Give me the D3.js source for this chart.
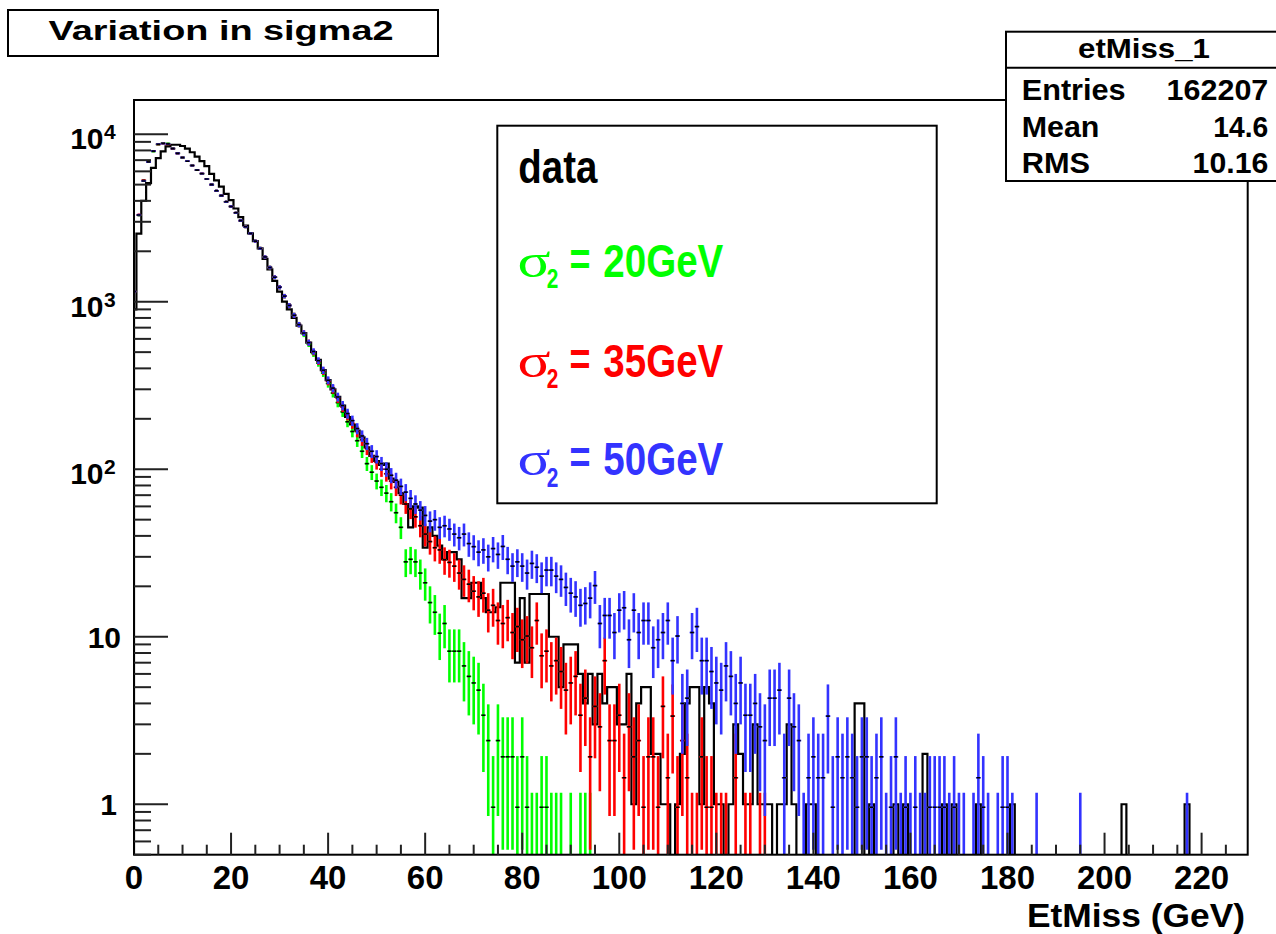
<!DOCTYPE html>
<html><head><meta charset="utf-8">
<script src="https://cdn.jsdelivr.net/npm/d3@7"></script>
<style>
body{margin:0;background:#fff}
svg{display:block}
text{font-family:"Liberation Sans",Arial,Helvetica,sans-serif;font-weight:bold}
</style>
</head><body>
<svg id="c" width="1276" height="934"></svg>
<script>
// ---- data: 1 GeV bins centred on integers 0..229 ----
const binCenters = d3.range(0, 230);
const dataCounts = [
 900,2550,4000,5100,6300,7200,7900,8450,8650,8650,
 8500,8200,7800,7350,6900,6450,5800,5300,4860,4400,
 4040,3600,3200,2850,2560,2300,2080,1800,1560,1330,
 1150,1000,900,800,720,650,570,500,450,390,
 340,300,270,240,205,185,170,155,135,120,
 112,106,108,88,84,72,62,45,60,59,
 34,45,40,35,29,32,32,29,17,17,
 21,21,17,14,14,15,21,21,21,7,
 17,7,18,18,18,18,10,10,5,9,
 9,9,6,4,6,3,6,4,5,5,
 3,3,6,1,4,5,5,2,2,1,
 1,0,1,2,4,5,5,1,5,4,
 1,1,0,1,3,2,1,1,3,1,
 1,1,0,1,1,3,1,0,0,1,
 1,0,0,0,0,0,0,0,0,4,
 4,0,1,0,0,0,0,1,0,1,
 0,0,0,2,0,0,0,1,0,1,
 0,0,0,0,1,0,0,0,0,0,
 0,1,0,0,0,0,0,0,0,0,
 0,0,0,0,0,0,0,0,0,0,
 0,0,0,0,1,0,0,0,0,0,
 0,0,0,0,0,0,0,1,0,0,
 0,0,0,0,0,0,0,0,0,0];
const sigma20 = [
 1150,3280,5250,6850,7900,8700,8850,8800,8200,7700,
 7250,6900,6500,6100,5800,5400,5000,4600,4300,3950,
 3700,3400,3050,2800,2560,2300,2080,1850,1600,1400,
 1220,1080,950,830,730,640,560,490,430,375,
 325,285,250,220,192,168,148,128,108,96,
 85,78,72,64,55,45,28,29,28,24,
 21,16,14,10.5,12,8.2,8.2,8.2,6.7,5.8,
 5.3,4.8,3.4,2.4,0.96,2.4,1.92,1.92,1.92,0.96,
 1.92,0.96,0.48,0.48,0.96,0.96,0.48,0.48,0.48,0,
 0.48,0,0.48,0.48,0.48,0,0,0,0,0,
 0,0,0,0,0,0,0,0,0,0,
 0,0,0,0,0,0,0,0,0,0,
 0,0,0,0,0,0,0,0,0,0,
 0,0,0,0,0,0,0,0,0,0,
 0,0,0,0,0,0,0,0,0,0,
 0,0,0,0,0,0,0,0,0,0,
 0,0,0,0,0,0,0,0,0,0,
 0,0,0,0,0,0,0,0,0,0,
 0,0,0,0,0,0,0,0,0,0,
 0,0,0,0,0,0,0,0,0,0,
 0,0,0,0,0,0,0,0,0,0,
 0,0,0,0,0,0,0,0,0,0,
 0,0,0,0,0,0,0,0,0,0];
const sigma35 = [
 1150,3300,5300,6850,7950,8700,8800,8700,8200,7680,
 7260,6900,6500,6100,5820,5400,5000,4600,4300,3950,
 3700,3400,3050,2800,2560,2300,2080,1850,1600,1400,
 1220,1080,950,830,730,650,570,500,440,385,
 335,300,265,235,210,188,168,150,133,120,
 110,100,94,85,78,70,62,58,52,46,
 41,37,34,33,28.8,27.8,26.4,24,22,20.6,
 18.7,17.3,18.2,14.4,15.4,12.5,12,13,10.6,11.5,
 9.6,10.1,8.6,12.5,7.7,8.2,6.7,7.2,6.2,4.8,
 5.3,5.8,3.4,4.3,1.92,3.84,2.9,7.2,2.4,2.4,
 3.4,1.44,2.9,1.92,2.4,0.96,1.92,1.92,0.96,3.84,
 1.44,3.36,0.96,2.4,1.44,0.48,0.48,1.92,0.96,0.96,
 0.48,0.48,0.48,0,1.44,0,0.48,0.48,0,0.48,
 0.48,0,0,0,0,0,0,0,0,0,
 0,0,0,0,0,0,0,0,0,0,
 0,0,0,0,0,0,0,0,0,0,
 0,0,0,0,0,0,0,0,0,0,
 0,0,0,0,0,0,0,0,0,0,
 0,0,0,0,0,0,0,0,0,0,
 0,0,0,0,0,0,0,0,0,0,
 0,0,0,0,0,0,0,0,0,0,
 0,0,0,0,0,0,0,0,0,0,
 0,0,0,0,0,0,0,0,0,0];
const sigma50 = [
 1150,3290,5260,6840,7920,8710,8800,8750,8220,7680,
 7260,6900,6500,6100,5820,5400,5000,4600,4300,3950,
 3700,3400,3050,2800,2560,2300,2080,1850,1600,1400,
 1220,1080,950,830,730,650,570,505,445,390,
 340,305,270,240,215,195,175,158,142,128,
 119,108,100,92,86,79,73,67,62,57,
 53,49,50,45,46,44,41,39,41,36,
 34.5,32,33,30,33.6,31,34.6,29,26.4,28,
 26.4,24,27.4,26,23,25,25,23,22,19.7,
 18.2,17.3,15.4,15.8,17,20.2,12,13.4,13.4,10.6,
 14.4,14.9,9.6,14.4,10.6,12.5,12.5,8.6,9.6,10.6,
 12.5,7.2,10.1,4,4.3,10.6,11.5,7.2,7.2,6.2,
 5.3,4.8,6.7,5.8,4,5.3,3.4,3.4,4,2.9,
 2.4,4.3,4.3,4.8,1.44,4.3,2.9,2.4,0.48,1.44,
 1.92,1.44,1.44,3.36,0.96,1.92,1.44,1.92,1.44,0.96,
 1.92,1.92,0.96,1.44,1.92,0.48,0.96,1.92,0.48,0.96,
 0.48,0.96,0.48,0.48,0.96,0.96,0.96,0.96,0.48,0.96,
 0.48,0.48,0,0.48,1.44,0.96,0.48,0,0.48,0.96,
 0.96,0.48,0,0,0,0,0.48,0,0,0,
 0,0,0,0,0,0.48,0,0,0,0,
 0,0,0,0,0,0,0,0,0,0,
 0,0,0,0,0,0,0,0.48,0,0,
 0,0,0,0,0,0,0,0,0,0];

const xTickValues = [0,20,40,60,80,100,120,140,160,180,200,220];
const yTickExponents = [0,1,2,3,4];
const legendNames = ["data","20GeV","35GeV","50GeV"];
const seriesColors = ["#000000","#00ff00","#ff0000","#3333ff"];
const statsLabels = ["Entries","Mean","RMS"];
const statsValues = ["162207","14.6","10.16"];

// ---- layout ----
const svg = d3.select("#c");
const F = {l:134, r:1247.7, t:100, b:854.7};
const x = d3.scaleLinear().domain([0,229.5]).range([F.l,F.r]);
const y = d3.scaleLog().domain([0.5,16000]).range([F.b,F.t]);

svg.append("defs").append("clipPath").attr("id","fr")
  .append("rect").attr("x",F.l).attr("y",F.t).attr("width",F.r-F.l).attr("height",F.b-F.t);

const plot = svg.append("g").attr("clip-path","url(#fr)");
const yv = v => v>0 ? y(Math.max(v,0.3)) : F.b+5;

// data histogram (step outline)
const p = d3.path();
p.moveTo(x(0), F.b+5);
binCenters.forEach((c,i)=>{
  const x0 = x(Math.max(c-0.5,0)), x1 = x(c+0.5), yy = yv(dataCounts[i]);
  p.lineTo(x0, yy); p.lineTo(x1, yy);
});
p.lineTo(x(229.5), F.b+5);
plot.append("path").attr("d",p.toString()).attr("fill","none")
  .attr("stroke","#000").attr("stroke-width",2.2).attr("stroke-linejoin","miter");

// MC with error bars (error = sqrt(content))
function drawErr(vals,color){
  const g = plot.append("g");
  binCenters.forEach((c,i)=>{
    const v = vals[i]; if(!(v>0)) return;
    const e = Math.sqrt(v);
    const lo = v-e>0 ? y(Math.max(v-e,0.3)) : F.b+5;
    g.append("line").attr("x1",x(c)).attr("x2",x(c)).attr("y1",lo).attr("y2",y(v+e))
      .attr("stroke",color).attr("stroke-width",2.6);
    if(v>=0.5){
      g.append("line").attr("x1",x(c-0.5)).attr("x2",x(c+0.5)).attr("y1",y(v)).attr("y2",y(v))
        .attr("stroke",color).attr("stroke-width",1.6);
    }
  });
  binCenters.forEach((c,i)=>{
    const v = vals[i]; if(!(v>=0.5)) return;
    g.append("line").attr("x1",x(c-0.38)).attr("x2",x(c+0.38)).attr("y1",y(v)).attr("y2",y(v))
      .attr("stroke","#000").attr("stroke-width",1.6);
  });
}
drawErr(sigma20, seriesColors[1]);
drawErr(sigma35, seriesColors[2]);
drawErr(sigma50, seriesColors[3]);

// frame
svg.append("rect").attr("x",F.l).attr("y",F.t).attr("width",F.r-F.l).attr("height",F.b-F.t)
  .attr("fill","none").attr("stroke","#000").attr("stroke-width",2);

// x axis ticks and labels
const ax = svg.append("g").attr("stroke","#222").attr("stroke-width",2);
d3.range(5,229.5,5).forEach(v=>{
  const major = v%20===0;
  ax.append("line").attr("x1",x(v)).attr("x2",x(v)).attr("y1",F.b).attr("y2",F.b-(major?22:10));
});
xTickValues.forEach(v=>{
  svg.append("text").attr("x",x(v)).attr("y",889).attr("text-anchor","middle")
    .attr("font-size",33).text(v);
});
svg.append("text").attr("x",1245).attr("y",926.5).attr("text-anchor","end")
  .attr("font-size",32.5).attr("textLength",218).attr("lengthAdjust","spacingAndGlyphs").text("EtMiss (GeV)");

// y axis ticks (log) and labels
const yTicks = [];
[-1,0,1,2,3,4].forEach(k=>{ for(let m=1;m<10;m++){ const v=m*Math.pow(10,k); if(v>=0.5 && v<=16000) yTicks.push({v,major:m===1}); } });
yTicks.forEach(d=>{
  ax.append("line").attr("x1",F.l).attr("x2",F.l+(d.major?34:17)).attr("y1",y(d.v)).attr("y2",y(d.v));
});
yTickExponents.forEach(k=>{
  const yy = y(Math.pow(10,k));
  if(k===0){
    svg.append("text").attr("x",117).attr("y",yy+11).attr("text-anchor","end").attr("font-size",30).text("1");
  } else if(k===1){
    svg.append("text").attr("x",121).attr("y",yy+11).attr("text-anchor","end").attr("font-size",30).text("10");
  } else {
    svg.append("text").attr("x",103.5).attr("y",yy+15).attr("text-anchor","end").attr("font-size",30).text("10");
    svg.append("text").attr("x",104).attr("y",yy+5).attr("font-size",21).text(k);
  }
});

// legend
const lg = svg.append("g");
lg.append("rect").attr("x",497.3).attr("y",125.7).attr("width",439.4).attr("height",377.6)
  .attr("fill","#fff").attr("stroke","#000").attr("stroke-width",2);
lg.append("text").attr("x",518.3).attr("y",183.3).attr("font-size",46).attr("fill",seriesColors[0])
  .attr("textLength",79).attr("lengthAdjust","spacingAndGlyphs").text(legendNames[0]);
[276.7,376.7,475].forEach((by,i)=>{
  const col = seriesColors[i+1];
  lg.append("text").attr("x",517.5).attr("y",by).attr("font-size",48)
    .style("font-weight","normal").style("font-family","'Liberation Serif','DejaVu Serif',serif")
    .attr("fill",col).attr("textLength",33).attr("lengthAdjust","spacingAndGlyphs").text("σ");
  lg.append("text").attr("x",546.7).attr("y",by+11.6).attr("font-size",28).attr("fill",col)
    .attr("textLength",11.6).attr("lengthAdjust","spacingAndGlyphs").text("2");
  lg.append("text").attr("x",569.5).attr("y",by-2).attr("font-size",46).attr("fill",col)
    .attr("textLength",21).attr("lengthAdjust","spacingAndGlyphs").text("=");
  lg.append("text").attr("x",603.3).attr("y",by).attr("font-size",46).attr("fill",col)
    .attr("textLength",120).attr("lengthAdjust","spacingAndGlyphs").text(legendNames[i+1]);
});

// title box
svg.append("rect").attr("x",8).attr("y",10).attr("width",430).attr("height",46)
  .attr("fill","#fff").attr("stroke","#000").attr("stroke-width",2);
svg.append("text").attr("x",221).attr("y",39.5).attr("text-anchor","middle").attr("font-size",28)
  .attr("textLength",345).attr("lengthAdjust","spacingAndGlyphs").text("Variation in sigma2");

// stats box
svg.append("rect").attr("x",1006).attr("y",31.7).attr("width",300).attr("height",149.3)
  .attr("fill","#fff").attr("stroke","#000").attr("stroke-width",2);
svg.append("line").attr("x1",1006).attr("x2",1290).attr("y1",67.7).attr("y2",67.7)
  .attr("stroke","#000").attr("stroke-width",2);
svg.append("text").attr("x",1144).attr("y",58).attr("text-anchor","middle").attr("font-size",28)
  .attr("textLength",132).attr("lengthAdjust","spacingAndGlyphs").text("etMiss_1");
const sLen = [104,77.7,68.3], vLen=[101.7,55,75.7];
statsLabels.forEach((s,i)=>{
  const by = [100,136.7,173][i];
  svg.append("text").attr("x",1021.7).attr("y",by).attr("font-size",30)
    .attr("textLength",sLen[i]).attr("lengthAdjust","spacingAndGlyphs").text(s);
  svg.append("text").attr("x",1268.3-vLen[i]).attr("y",by).attr("font-size",30)
    .attr("textLength",vLen[i]).attr("lengthAdjust","spacingAndGlyphs").text(statsValues[i]);
});
</script>
</body></html>
